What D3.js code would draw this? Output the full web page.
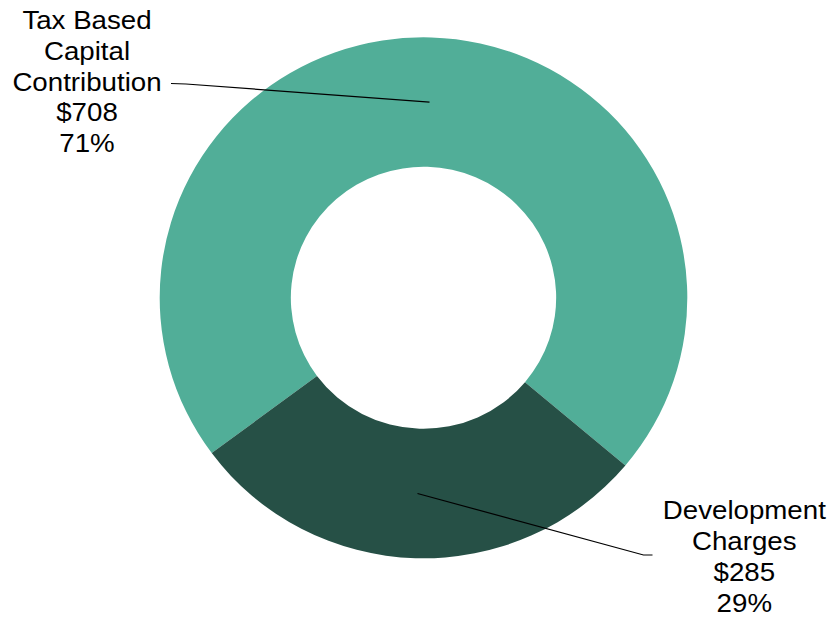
<!DOCTYPE html>
<html>
<head>
<meta charset="utf-8">
<script src="https://cdn.jsdelivr.net/npm/d3@7"></script>
<style>
  html, body { margin: 0; padding: 0; background: #fff; }
  svg { display: block; }
  text { font-family: Arial, "Liberation Sans", sans-serif; fill: #000; }
</style>
</head>
<body>
<svg id="chart" width="831" height="617"></svg>
<script>
// Funding sources (thousands of dollars)
const categories = ["Tax Based Capital Contribution", "Development Charges"];
const amounts = [708, 285];
const percentLabels = ["71%", "29%"];
const labelLines = [["Tax Based", "Capital", "Contribution"], ["Development", "Charges"]];
const colors = ["#51ae98", "#265046"];

const width = 831, height = 617;
const cx = 423.5, cy = 297.8;
const outerR = 260.5, innerR = 131;
const squeeze = 1.0127; // ring is drawn slightly wider than tall
const textStretch = 1.065; // label glyphs are set a little wide

const svg = d3.select("#chart");

const startDeg = 233.4;
const pie = d3.pie()
  .sort(null)
  .startAngle(startDeg * Math.PI / 180)
  .endAngle((startDeg + 360) * Math.PI / 180)
  .value(d => d);

const arcs = pie(amounts);
const arc = d3.arc().innerRadius(innerR).outerRadius(outerR);

const ring = svg.append("g")
  .attr("transform", `translate(${cx},${cy}) scale(${squeeze},1)`);

ring.selectAll("path")
  .data(arcs)
  .join("path")
  .attr("d", arc)
  .attr("fill", (d, i) => colors[i]);

// label blocks: centre x, first baseline, leader-line anchor on the text side
const labelSpecs = [
  { x: 87, y: 28.8, anchor: [171, 83.5], elbow: [186, 84] },
  { x: 744.3, y: 519.3, anchor: [652.5, 555], elbow: [643.5, 555] }
];
const lineGap = 30.9;

arcs.forEach((a, i) => {
  const spec = labelSpecs[i];
  const c = arc.centroid(a);
  const px = cx + c[0] * squeeze, py = cy + c[1];
  svg.append("path")
    .attr("d", d3.line()([spec.anchor, spec.elbow, [px, py]]))
    .attr("fill", "none")
    .attr("stroke", "#000")
    .attr("stroke-width", 1.2);

  const lines = labelLines[i].concat(["$" + amounts[i], percentLabels[i]]);
  const t = svg.append("text")
    .attr("text-anchor", "middle")
    .attr("font-size", 26)
    .attr("transform", `translate(${spec.x},0) scale(${textStretch},1)`);
  lines.forEach((s, k) => {
    t.append("tspan")
      .attr("x", 0)
      .attr("y", spec.y + k * lineGap)
      .text(s);
  });
});
</script>
</body>
</html>
